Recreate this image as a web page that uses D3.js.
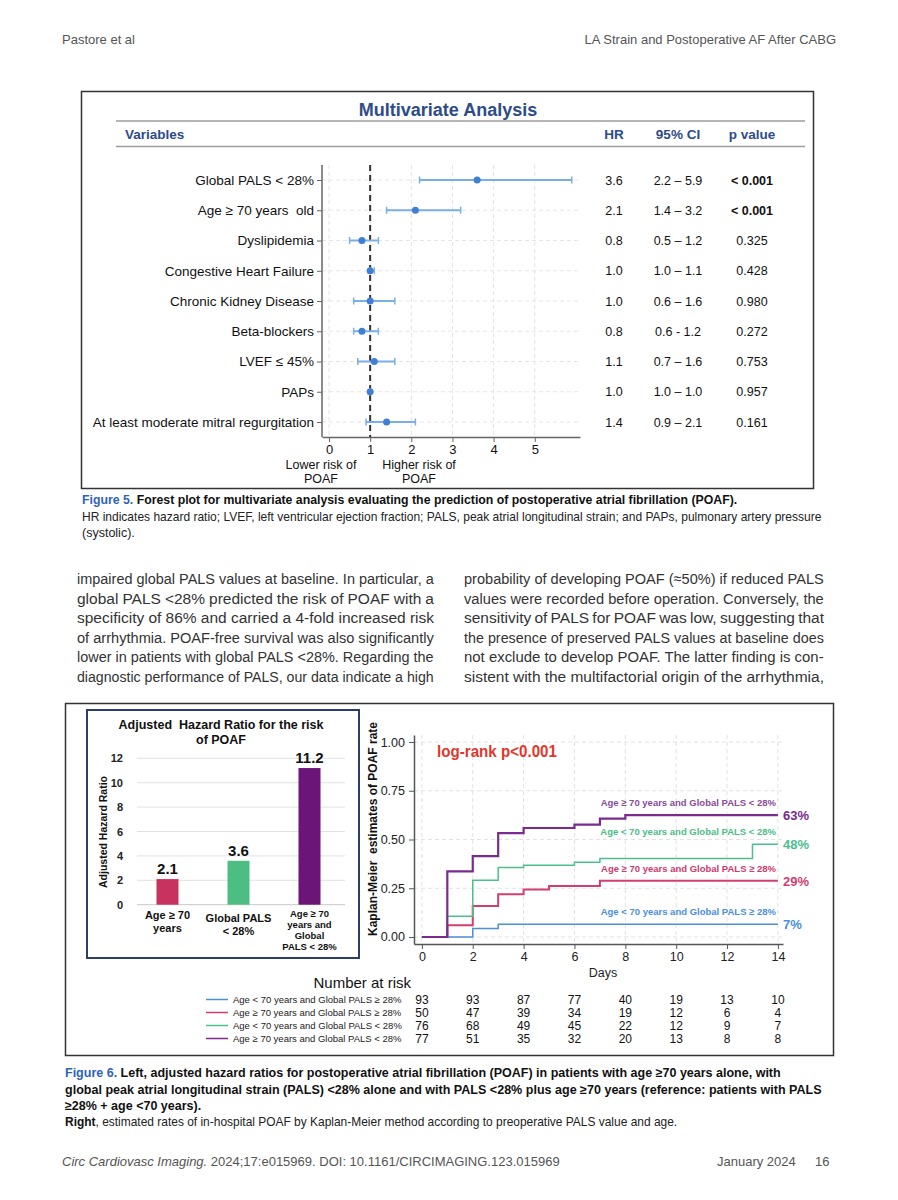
<!DOCTYPE html>
<html><head><meta charset="utf-8">
<script src="https://cdn.jsdelivr.net/npm/d3@7"></script>
<style>body{margin:0;background:#fff}svg{display:block}</style>
</head><body><svg id="c" width="898" height="1200"></svg>
<script>
// ---------------- DATA ----------------
const forestVars = ["Global PALS < 28%","Age \u2265 70 years\u00a0 old","Dyslipidemia","Congestive Heart Failure","Chronic Kidney Disease","Beta-blockers","LVEF \u2264 45%","PAPs","At least moderate mitral regurgitation"];
const forestHR = [3.6,2.1,0.8,1.0,1.0,0.8,1.1,1.0,1.4];
const forestLo = [2.2,1.4,0.5,1.0,0.6,0.6,0.7,1.0,0.9];
const forestHi = [5.9,3.2,1.2,1.1,1.6,1.2,1.6,1.0,2.1];
const forestHRText = ["3.6","2.1","0.8","1.0","1.0","0.8","1.1","1.0","1.4"];
const forestCIText = ["2.2 \u2013 5.9","1.4 \u2013 3.2","0.5 \u2013 1.2","1.0 \u2013 1.1","0.6 \u2013 1.6","0.6 - 1.2","0.7 \u2013 1.6","1.0 \u2013 1.0","0.9 \u2013 2.1"];
const forestPText = ["< 0.001","< 0.001","0.325","0.428","0.980","0.272","0.753","0.957","0.161"];
const forestTicks = [0,1,2,3,4,5];

const barCats = [["Age \u2265 70","years"],["Global PALS","< 28%"],["Age \u2265 70","years and","Global","PALS < 28%"]];
const barVals = [2.1,3.6,11.2];
const barLabels = ["2.1","3.6","11.2"];
const barTicks = [0,2,4,6,8,10,12];

const kmGroups = ["Age < 70 years and Global PALS \u2265 28%","Age \u2265 70 years and Global PALS \u2265 28%","Age < 70 years and Global PALS < 28%","Age \u2265 70 years and Global PALS < 28%"];
const kmBlue   = [[0,0],[2,0.044],[3,0.065],[14,0.065]];
const kmPink   = [[0,0],[1,0.060],[2,0.159],[3,0.219],[4,0.244],[5,0.262],[7,0.289],[14,0.289]];
const kmGreen  = [[0,0],[1,0.106],[2,0.291],[3,0.356],[4,0.368],[6,0.383],[7,0.402],[13,0.476],[14,0.476]];
const kmPurple = [[0,0],[1,0.337],[2,0.415],[3,0.533],[4,0.559],[6,0.576],[7,0.607],[8,0.625],[14,0.625]];
const kmFinal = ["7%","29%","48%","63%"];
const kmXTicks = [0,2,4,6,8,10,12,14];
const kmYTicks = [0,0.25,0.5,0.75,1];
const riskDays = [0,2,4,6,8,10,12,14];
const riskBlue   = [93,93,87,77,40,19,13,10];
const riskPink   = [50,47,39,34,19,12,6,4];
const riskGreen  = [76,68,49,45,22,12,9,7];
const riskPurple = [77,51,35,32,20,13,8,8];

const bodyLeft = [
"impaired global PALS values at baseline. In particular, a",
"global PALS <28% predicted the risk of POAF with a",
"specificity of 86% and carried a 4-fold increased risk",
"of arrhythmia. POAF-free survival was also significantly",
"lower in patients with global PALS <28%. Regarding the",
"diagnostic performance of PALS, our data indicate a high"];
const bodyRight = [
"probability of developing POAF (\u224850%) if reduced PALS",
"values were recorded before operation. Conversely, the",
"sensitivity of PALS for POAF was low, suggesting that",
"the presence of preserved PALS values at baseline does",
"not exclude to develop POAF. The latter finding is con-",
"sistent with the multifactorial origin of the arrhythmia,"];

// ---------------- STYLE ----------------
const SANS = "'Liberation Sans', Arial, Helvetica, sans-serif";
const NARROW = "'Liberation Sans Narrow', 'Arial Narrow', 'Liberation Sans', Arial, sans-serif";
const NAVY = "#2c4b8b";
const kmColors = ["#4a90d9","#d23e6e","#4cc08c","#7b2a8e"];
const kmLabelColors = ["#4a8fe0","#cf3a6c","#4bbd88","#8a4b9c"];
const kmWidths = [1.5,2,1.5,2.2];
const barColors = ["#c8325f","#4dbe82","#6a1577"];

const svg = d3.select("#c");
svg.append("rect").attr("width",898).attr("height",1200).attr("fill","#fff");

function fitWidth(sel, x, target){
  const n = sel.node(); const w = n.getComputedTextLength();
  if (w>0) sel.attr("x",0).attr("transform",`translate(${x},0) scale(${target/w},1)`);
}
function justify(sel, x, target){
  const n = sel.node(); const w = n.getComputedTextLength();
  const spaces = (n.textContent.match(/ /g)||[]).length;
  const ws = spaces? (target-w)/spaces : 0;
  if (ws > -1.5) sel.attr("word-spacing", ws);
  else fitWidth(sel, x, target);
}

// ---------------- PAGE HEADER / FOOTER ----------------
svg.append("text").attr("x",62).attr("y",44).attr("font-family",NARROW).attr("font-size",13).attr("fill","#555").text("Pastore et al");
svg.append("text").attr("x",836).attr("y",44).attr("text-anchor","end").attr("font-family",NARROW).attr("font-size",13).attr("fill","#555").text("LA Strain and Postoperative AF After CABG");
const foot = svg.append("text").attr("x",62).attr("y",1166).attr("font-family",NARROW).attr("font-size",13).attr("fill","#555");
foot.append("tspan").attr("font-style","italic").text("Circ Cardiovasc Imaging.");
foot.append("tspan").text(" 2024;17:e015969. DOI: 10.1161/CIRCIMAGING.123.015969");
svg.append("text").attr("x",717).attr("y",1166).attr("font-family",NARROW).attr("font-size",13).attr("fill","#555").text("January 2024");
svg.append("text").attr("x",815).attr("y",1166).attr("font-family",NARROW).attr("font-size",13).attr("fill","#555").text("16");

// ---------------- FIGURE 5 : FOREST ----------------
svg.append("rect").attr("x",81.5).attr("y",91.5).attr("width",732).attr("height",397).attr("fill","none").attr("stroke","#333").attr("stroke-width",1.5);
svg.append("text").attr("x",448).attr("y",115.5).attr("text-anchor","middle").attr("font-family",SANS).attr("font-weight","bold").attr("font-size",18).attr("fill",NAVY).text("Multivariate Analysis");
[121,146.5].forEach(y=>svg.append("line").attr("x1",116).attr("x2",805).attr("y1",y).attr("y2",y).attr("stroke","#9c9c9c").attr("stroke-width",1.5));
const hdr = [["Variables",125,"start"],["HR",614,"middle"],["95% CI",678,"middle"],["p value",752,"middle"]];
hdr.forEach(h=>svg.append("text").attr("x",h[1]).attr("y",139).attr("text-anchor",h[2]).attr("font-family",SANS).attr("font-weight","bold").attr("font-size",13.5).attr("fill",NAVY).text(h[0]));

const fx = d3.scaleLinear().domain([-0.17,6.1]).range([322,580]);
const fy = d3.scalePoint().domain(forestVars).range([180,422]);
const fg = svg.append("g");
forestTicks.forEach(t=>fg.append("line").attr("x1",fx(t)).attr("x2",fx(t)).attr("y1",165).attr("y2",437).attr("stroke","#e3e3e3").attr("stroke-dasharray","4,3"));
forestVars.forEach(v=>fg.append("line").attr("x1",322).attr("x2",580).attr("y1",fy(v)).attr("y2",fy(v)).attr("stroke","#e6e6e6").attr("stroke-dasharray","4,3"));
const fxAxis = fg.append("g").attr("transform","translate(0,437)").call(d3.axisBottom(fx).tickValues(forestTicks).tickFormat(d3.format("d")).tickSize(5).tickSizeOuter(0));
const fyAxis = fg.append("g").attr("transform","translate(322,0)").call(d3.axisLeft(fy).tickSize(5).tickPadding(3));
fyAxis.select(".domain").remove();
fg.append("line").attr("x1",322).attr("x2",322).attr("y1",165).attr("y2",437).attr("stroke","#666").attr("stroke-width",1.5);
fxAxis.select(".domain").attr("stroke","#666").attr("stroke-width",1.5);
[fxAxis,fyAxis].forEach(a=>{a.selectAll(".tick line").attr("stroke","#666");a.selectAll("text").attr("font-family",SANS).attr("fill","#111");});
fxAxis.selectAll("text").attr("font-size",13);
fyAxis.selectAll("text").attr("font-size",13.5);
fg.append("line").attr("x1",fx(1)).attr("x2",fx(1)).attr("y1",165).attr("y2",437).attr("stroke","#333").attr("stroke-width",2).attr("stroke-dasharray","6,4");
forestVars.forEach((v,i)=>{
  const y = fy(v);
  fg.append("line").attr("x1",fx(forestLo[i])).attr("x2",fx(forestHi[i])).attr("y1",y).attr("y2",y).attr("stroke","#7aaee8").attr("stroke-width",2);
  [forestLo[i],forestHi[i]].forEach(e=>fg.append("line").attr("x1",fx(e)).attr("x2",fx(e)).attr("y1",y-3.5).attr("y2",y+3.5).attr("stroke","#7aaee8").attr("stroke-width",1.5));
  fg.append("circle").attr("cx",fx(forestHR[i])).attr("cy",y).attr("r",3.5).attr("fill","#3f7fd6");
  fg.append("text").attr("x",614).attr("y",y).attr("dy","0.36em").attr("text-anchor","middle").attr("font-family",SANS).attr("font-size",12.5).attr("fill","#111").text(forestHRText[i]);
  fg.append("text").attr("x",678).attr("y",y).attr("dy","0.36em").attr("text-anchor","middle").attr("font-family",SANS).attr("font-size",12.5).attr("fill","#111").text(forestCIText[i]);
  fg.append("text").attr("x",752).attr("y",y).attr("dy","0.36em").attr("text-anchor","middle").attr("font-family",SANS).attr("font-size",12.5).attr("font-weight",forestPText[i].startsWith("<")?"bold":"normal").attr("fill","#111").text(forestPText[i]);
});
[["Lower risk of",321,469],["POAF",321,482.5],["Higher risk of",419,469],["POAF",419,482.5]].forEach(t=>
  fg.append("text").attr("x",t[1]).attr("y",t[2]).attr("text-anchor","middle").attr("font-family",SANS).attr("font-size",12.5).attr("fill","#111").text(t[0]));

// Figure 5 caption
const c51 = svg.append("text").attr("y",504).attr("font-family",NARROW).attr("font-size",12.5).attr("font-weight","bold").attr("fill","#111");
c51.append("tspan").attr("fill","#2f63b8").text("Figure 5.");
c51.append("tspan").text(" Forest plot for multivariate analysis evaluating the prediction of postoperative atrial fibrillation (POAF).");
fitWidth(c51,82,656);
const c52 = svg.append("text").attr("y",521).attr("font-family",NARROW).attr("font-size",12.5).attr("fill","#222").text("HR indicates hazard ratio; LVEF, left ventricular ejection fraction; PALS, peak atrial longitudinal strain; and PAPs, pulmonary artery pressure");
fitWidth(c52,82,740);
svg.append("text").attr("x",82).attr("y",537).attr("font-family",NARROW).attr("font-size",12.5).attr("fill","#222").text("(systolic).");

// Body text
bodyLeft.forEach((s,i)=>{const t=svg.append("text").attr("x",77).attr("y",584+i*19.6).attr("font-family",NARROW).attr("font-size",15.5).attr("fill","#333").text(s);justify(t,77,357);});
bodyRight.forEach((s,i)=>{const t=svg.append("text").attr("x",464).attr("y",584+i*19.6).attr("font-family",NARROW).attr("font-size",15.5).attr("fill","#333").text(s);justify(t,464,360);});

// ---------------- FIGURE 6 ----------------
svg.append("rect").attr("x",65.5).attr("y",703.5).attr("width",768).attr("height",352).attr("fill","none").attr("stroke","#333").attr("stroke-width",1.5);

// Bar panel
svg.append("rect").attr("x",87).attr("y",710).attr("width",272).attr("height",248).attr("fill","none").attr("stroke","#2b3d6b").attr("stroke-width",2);
const bt = svg.append("text").attr("text-anchor","middle").attr("font-family",SANS).attr("font-weight","bold").attr("font-size",12.5).attr("fill","#111");
bt.append("tspan").attr("x",221).attr("y",729).text("Adjusted\u00a0 Hazard Ratio for the risk");
bt.append("tspan").attr("x",221).attr("y",744).text("of POAF");
const by = d3.scaleLinear().domain([0,12]).range([904.7,758.3]);
const bx = d3.scalePoint().domain(d3.range(barVals.length)).range([132,345]).padding(0.5);
barTicks.forEach(t=>svg.append("line").attr("x1",137).attr("x2",345).attr("y1",by(t)).attr("y2",by(t)).attr("stroke",t===0?"#c8c8c8":"#e2e2e2").attr("stroke-width",1));
const byAxis = svg.append("g").attr("transform","translate(128,0)").call(d3.axisLeft(by).tickValues(barTicks).tickSize(0).tickPadding(5));
byAxis.select(".domain").remove();
byAxis.selectAll("text").attr("font-family",SANS).attr("font-weight","bold").attr("font-size",11).attr("fill","#222");
svg.append("text").attr("transform","translate(107,832) rotate(-90)").attr("text-anchor","middle").attr("font-family",SANS).attr("font-weight","bold").attr("font-size",10.5).attr("fill","#111").text("Adjusted Hazard Ratio");
barVals.forEach((v,i)=>{
  svg.append("rect").attr("x",bx(i)-11).attr("width",22).attr("y",by(v)).attr("height",by(0)-by(v)).attr("fill",barColors[i]);
  svg.append("text").attr("x",bx(i)).attr("y",by(v)-5).attr("text-anchor","middle").attr("font-family",SANS).attr("font-weight","bold").attr("font-size",15).attr("fill","#111").text(barLabels[i]);
  const lines = barCats[i];
  const small = lines.length>2;
  const t = svg.append("text").attr("text-anchor","middle").attr("font-family",SANS).attr("font-weight","bold").attr("font-size",small?9.5:11).attr("fill","#111");
  lines.forEach((l,j)=>t.append("tspan").attr("x",bx(i)).attr("y",small?916.5+j*11.3:(i===0?919:922)+j*12.5).text(l));
});

// KM panel
const kx = d3.scaleLinear().domain([-0.31,14.2]).range([414,783]);
const ky = d3.scaleLinear().domain([-0.036,1.036]).range([944,735]);
const kg = svg.append("g");
kmXTicks.forEach(t=>kg.append("line").attr("x1",kx(t)).attr("x2",kx(t)).attr("y1",735).attr("y2",944).attr("stroke","#e2e2e2").attr("stroke-dasharray","4,3"));
kmYTicks.forEach(t=>kg.append("line").attr("x1",414).attr("x2",783).attr("y1",ky(t)).attr("y2",ky(t)).attr("stroke","#e2e2e2").attr("stroke-dasharray","4,3"));
const kxAxis = kg.append("g").attr("transform","translate(0,944)").call(d3.axisBottom(kx).tickValues(kmXTicks).tickSize(5).tickSizeOuter(0));
const kyAxis = kg.append("g").attr("transform","translate(414,0)").call(d3.axisLeft(ky).tickValues(kmYTicks).tickFormat(d3.format(".2f")).tickSize(5).tickSizeOuter(0).tickPadding(4));
[kxAxis,kyAxis].forEach(a=>{a.select(".domain").attr("stroke","#555").attr("stroke-width",1.5);a.selectAll(".tick line").attr("stroke","#555");a.selectAll("text").attr("font-family",SANS).attr("font-size",12.5).attr("fill","#222");});
kg.append("text").attr("x",603).attr("y",977).attr("text-anchor","middle").attr("font-family",SANS).attr("font-size",12.5).attr("fill","#222").text("Days");
kg.append("text").attr("transform","translate(377,829) rotate(-90)").attr("text-anchor","middle").attr("font-family",SANS).attr("font-weight","bold").attr("font-size",12).attr("fill","#111").text("Kaplan-Meier\u00a0 estimates of POAF rate");
const lr = kg.append("text").attr("y",757.5).attr("font-family",SANS).attr("font-weight","bold").attr("font-size",16.5).attr("fill","#e4352b").text("log-rank p<0.001");
fitWidth(lr,437,120);
const kmSeries = [kmBlue,kmPink,kmGreen,kmPurple];
const line = d3.line().x(d=>kx(d[0])).y(d=>ky(d[1])).curve(d3.curveStepAfter);
kmSeries.forEach((s,i)=>{
  kg.append("path").attr("d",line(s)).attr("fill","none").attr("stroke",kmColors[i]).attr("stroke-width",kmWidths[i]);
  const fin = s[s.length-1][1];
  kg.append("text").attr("x",776).attr("y",ky(fin)-9).attr("text-anchor","end").attr("font-family",SANS).attr("font-weight","bold").attr("font-size",9.5).attr("fill",kmLabelColors[i]).text(kmGroups[i]);
  kg.append("text").attr("x",783).attr("y",ky(fin)+5).attr("font-family",SANS).attr("font-weight","bold").attr("font-size",13).attr("fill",kmColors[i]).text(kmFinal[i]);
});

// Number at risk
svg.append("text").attr("x",411).attr("y",988).attr("text-anchor","end").attr("font-family",SANS).attr("font-size",15).attr("fill","#111").text("Number at risk");
const riskRows = [riskBlue,riskPink,riskGreen,riskPurple];
riskRows.forEach((r,i)=>{
  const y = 999.5+i*13;
  svg.append("line").attr("x1",206).attr("x2",228).attr("y1",y).attr("y2",y).attr("stroke",kmColors[i]).attr("stroke-width",1.5);
  svg.append("text").attr("x",233).attr("y",y).attr("dy","0.35em").attr("font-family",SANS).attr("font-size",9.5).attr("fill","#222").text(kmGroups[i]);
  r.forEach((n,j)=>svg.append("text").attr("x",kx(riskDays[j])).attr("y",y).attr("dy","0.36em").attr("text-anchor","middle").attr("font-family",SANS).attr("font-size",12).attr("fill","#111").text(n));
});

// Figure 6 caption
const c61 = svg.append("text").attr("y",1077).attr("font-family",NARROW).attr("font-size",12.5).attr("font-weight","bold").attr("fill","#111");
c61.append("tspan").attr("fill","#2f63b8").text("Figure 6.");
c61.append("tspan").text(" Left, adjusted hazard ratios for postoperative atrial fibrillation (POAF) in patients with age \u226570 years alone, with");
fitWidth(c61,65,716);
const c62 = svg.append("text").attr("y",1094).attr("font-family",NARROW).attr("font-size",12.5).attr("font-weight","bold").attr("fill","#111").text("global peak atrial longitudinal strain (PALS) <28% alone and with PALS <28% plus age \u226570 years (reference: patients with PALS");
fitWidth(c62,65,757);
svg.append("text").attr("x",65).attr("y",1110).attr("font-family",NARROW).attr("font-size",12.5).attr("font-weight","bold").attr("fill","#111").text("\u226528% + age <70 years).");
const c64 = svg.append("text").attr("y",1126).attr("font-family",NARROW).attr("font-size",12.5).attr("fill","#222");
c64.append("tspan").attr("font-weight","bold").attr("fill","#111").text("Right");
c64.append("tspan").text(", estimated rates of in-hospital POAF by Kaplan-Meier method according to preoperative PALS value and age.");
fitWidth(c64,65,613);
</script></body></html>
